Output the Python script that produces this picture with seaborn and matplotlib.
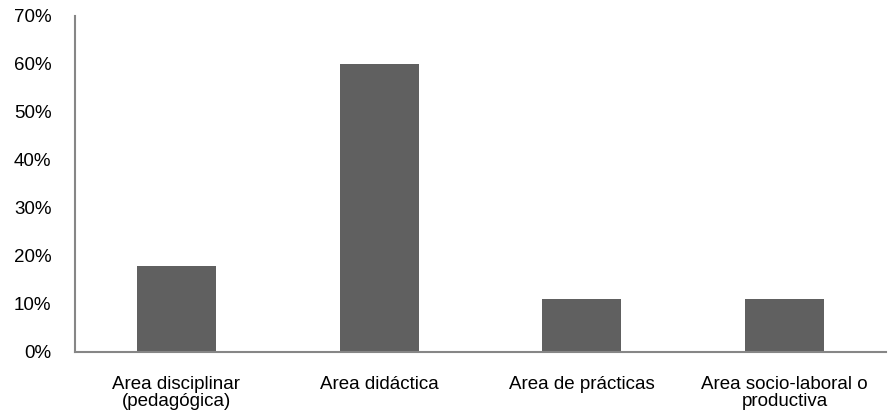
import matplotlib
matplotlib.use("Agg")
import matplotlib.pyplot as plt
import seaborn as sns
import pandas as pd
from matplotlib.ticker import FixedLocator, PercentFormatter

categories = ["Area disciplinar\n(pedagógica)", "Area didáctica",
              "Area de prácticas", "Area socio-laboral o\nproductiva"]
values = [18, 60, 11, 11]
y_ticks = [0, 10, 20, 30, 40, 50, 60, 70]

sns.set_theme(style="white")
plt.rcParams["font.family"] = ["Liberation Sans", "DejaVu Sans"]

df = pd.DataFrame({"area": categories, "pct": values})

fig = plt.figure(figsize=(8.89, 4.17), dpi=100)
ax = fig.add_axes([0.0844, 0.156, 0.912, 0.806])

sns.barplot(data=df, x="area", y="pct", color="#606060", saturation=1,
            width=0.39, ax=ax, edgecolor="none")

ax.set_xlim(-0.5, len(categories) - 0.5)
ax.set_ylim(0, 70)
ax.set_yticks(y_ticks)
ax.yaxis.set_major_formatter(PercentFormatter(decimals=0))
ax.set_xlabel("")
ax.set_ylabel("")

# category labels centred under bars, tick marks at category boundaries
ax.set_xticks(range(len(categories)))
ax.set_xticklabels(categories, fontsize=13.5, color="black", linespacing=1.05)
ax.tick_params(axis="x", which="major", length=0, pad=17)
ax.xaxis.set_minor_locator(FixedLocator([i - 0.5 for i in range(len(categories) + 1)]))
ax.tick_params(axis="x", which="minor", length=5, width=1.2, color="#868686", direction="out")
ax.tick_params(axis="y", length=5, width=1.2, color="#868686", direction="out",
               labelsize=13.5, labelcolor="black", pad=12)

for side in ["top", "right"]:
    ax.spines[side].set_visible(False)
for side in ["left", "bottom"]:
    ax.spines[side].set_color("#868686")
    ax.spines[side].set_linewidth(1.5)

fig.savefig("out.png", dpi=100)
